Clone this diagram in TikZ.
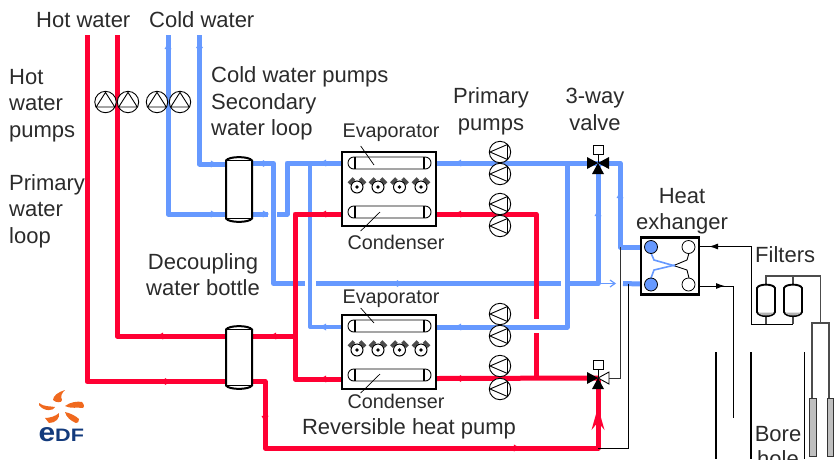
\documentclass[tikz,border=0pt]{standalone}
\usepackage{fontspec}
\setmainfont{Liberation Sans}
\usetikzlibrary{calc,arrows.meta}
\definecolor{hotred}{HTML}{FF0033}
\definecolor{coldblue}{HTML}{6699FF}
\definecolor{inktext}{HTML}{2B2B2B}
\definecolor{edforange}{HTML}{F0691E}
\definecolor{edfblue}{HTML}{123A7C}
\newcommand{\fsz}[1]{\fontsize{#1}{#1}\selectfont}
\tikzset{
  x=1pt,y=-1pt,
  lbl/.style={text=inktext,inner sep=0pt,font=\fsz{22},text height=15,text depth=1},
  lblL/.style={lbl,anchor=west},
  lblS/.style={lbl,font=\fsz{19.8},text height=14,text depth=0},
  hot/.style={draw=hotred,line width=5,line join=round},
  cold/.style={draw=coldblue,line width=5,line join=round},
  thinpipe/.style={draw=black!80,line width=1},
  hpbox/.style={draw=black,line width=2.2,fill=white,minimum width=94,minimum height=74,inner sep=0},
  hxbox/.style={draw=black,line width=2.2,fill=white,minimum width=58,minimum height=57,inner sep=0},
  portnode/.style={circle,draw=black,line width=.8,minimum size=13,inner sep=0},
  pumpcirc/.style={draw=black,line width=.9,fill=white},
  tube/.pic={
    \draw[line width=.9,fill=white,rounded corners=5.8] (-41.5,-6) rectangle (41.5,6);
    \draw[line width=1.1] (-34.5,-6) -- (-34.5,6) (34.5,-6) -- (34.5,6);
  },
  pumpleft/.pic={
    \draw[pumpcirc] (0,0) circle (10.7);
    \draw[line width=.9] (-10,0) -- (7.5,-7.5) -- (7.5,7.5) -- cycle;
  },
  pumpup/.pic={
    \draw[pumpcirc] (0,0) circle (10.7);
    \draw[line width=.9] (0,-9.6) -- (9.3,5) -- (-9.3,5) -- cycle;
  },
  compressor/.pic={
    \fill[black!70] (-1.7,-7.2) -- (-4.3,-9.8) -- (-9.3,-4.8) -- (-6.7,-2.2) -- cycle;
    \fill[black!70] (1.7,-7.2) -- (4.3,-9.8) -- (9.3,-4.8) -- (6.7,-2.2) -- cycle;
    \draw[line width=1,fill=white] (0,0) circle (6);
    \fill (0,0) circle (1.8);
  },
}
% bottle: name, cx, top, bottom
\newcommand{\bottle}[4]{%
  \node[minimum width=26,minimum height=#4-#3,inner sep=0] (#1) at (#2,{(#3+#4)/2}) {};
  \draw[fill=white,line width=2] (#2-13,#3+3.5) .. controls (#2-10,#3-1) and (#2+10,#3-1) .. (#2+13,#3+3.5)
     -- (#2+13,#4-3.5) .. controls (#2+10,#4+1) and (#2-10,#4+1) .. (#2-13,#4-3.5) -- cycle;
  \draw[line width=1] (#2-13,#3+3.5) -- (#2+13,#3+3.5) (#2-13,#4-3.5) -- (#2+13,#4-3.5);
}
% filter: name, cx
\newcommand{\filterunit}[2]{%
  \node[minimum width=18,minimum height=33,inner sep=0] (#1) at (#2,300) {};
  \draw[fill=white,line width=1.9] (#2-9,288) .. controls (#2-7,283.5) and (#2+7,283.5) .. (#2+9,288) -- (#2+9,312)
     .. controls (#2+7,317.5) and (#2-7,317.5) .. (#2-9,312) -- cycle;
  \fill[black!30] (#2-8,312.5) .. controls (#2-6,316.5) and (#2+6,316.5) .. (#2+8,312.5) -- cycle;
}
% valve: name, cx, cy
\newcommand{\valvebody}[3]{%
  \coordinate (#1) at (#2,#3);
  \draw[line width=.9] (#2,#3) -- (#2,#3-9);
  \draw[line width=.9,fill=white] (#2-5,#3-18) rectangle (#2+5,#3-9);
  \fill (#2,#3) -- (#2-11,#3-6) -- (#2-11,#3+6) -- cycle;
  \fill (#2,#3) -- (#2-6,#3+11) -- (#2+6,#3+11) -- cycle;
}
\newcommand{\tick}[4]{% colour, x, y, angle
  \fill[#1] (#2,#3) ++(#4:5) -- ++(#4+150:7) -- ++(#4-90:7) -- cycle;
}
\begin{document}
\begin{tikzpicture}
\useasboundingbox (0,0) rectangle (835,459);
\clip (0,0) rectangle (835,459);

% named equipment anchors
\coordinate (hotA) at (87,35);
\coordinate (hotB) at (117,35);
\coordinate (coldA) at (168,35);
\coordinate (coldB) at (199.5,35);
\coordinate (v1) at (598,163);
\coordinate (v2) at (598,378);
\coordinate (hxTL) at (641,247);
\coordinate (hxBL) at (641,284);

% cold pipes
\draw[cold] (coldB) |- (226,164);
\draw[cold] (coldA) |- (226,214);
\draw[cold] (252,163.5) -- (273.5,163.5) |- (305,283.5);
\draw[cold] (316,283.5) -- (561,283.5);
\draw[cold] (570,283.5) -- (598,283.5) -- (v1);
\draw[cold] (623,283.5) -- (hxBL);
\draw[coldblue,line width=1.2] (600,283.5) -- (615,283.5);
\draw[coldblue,line width=1.2] (610,280) -- (615,283.5) -- (610,287);
\draw[cold] (252,214) -- (268,214);
\draw[cold] (277,214) -- (287,214) |- (342,163);
\draw[cold,line width=4] (310,163) |- (342,327);
\draw[cold] (436,163) -- (v1);
\draw[cold] (436,327) -- (567,327) -- (567,163);
\draw[cold] (v1) -- (620,163) |- (hxTL);

% hot pipes
\draw[hot] (hotA) |- (225,381.5);
\draw[hot] (hotB) |- (225,336);
\draw[hot] (252,336) -- (295,336);
\draw[hot] (342,214) -- (295,214) |- (342,379);
\draw[hot] (436,214) -- (536,214) -- (536,319);
\draw[hot] (536,333) -- (536,379);
\draw[hot] (436,378.5) -- (v2);
\draw[hot] (252,381.5) -- (265,381.5) |- (598,448) -- (v2);

% flow arrows
\tick{coldblue}{168}{48}{-90}
\tick{coldblue}{199.5}{48}{90}
\tick{coldblue}{212}{164}{0}
\tick{coldblue}{212}{214}{0}
\tick{coldblue}{264}{163.5}{0}
\tick{coldblue}{264}{214}{0}
\tick{coldblue}{325}{163}{180}
\tick{coldblue}{460}{163}{180}
\tick{coldblue}{325}{327}{180}
\tick{coldblue}{460}{327}{180}
\tick{coldblue}{398}{283.5}{0}
\tick{coldblue}{598}{215}{-90}
\tick{coldblue}{620}{197}{-90}
\tick{hotred}{325}{214}{180}
\tick{hotred}{460}{214}{180}
\tick{hotred}{325}{379}{180}
\tick{hotred}{460}{378.5}{180}
\tick{hotred}{162}{336}{180}
\tick{hotred}{275}{336}{180}
\tick{hotred}{166}{381.5}{0}
\tick{hotred}{265}{417}{90}
\tick{hotred}{515}{448}{0}
\fill[hotred] (598,407) -- (604.5,430) -- (598,422) -- (591.5,430) -- cycle;

% thin lines
\draw[thinpipe] (620,247) -- (620,378) -- (606,378);
\draw[thinpipe,black] (628.5,283.5) -- (628.5,448) -- (598,448);
\draw[thinpipe,black] (699,246.5) -- (751,246.5) -- (751,324) -- (793,324);
\draw[thinpipe,black] (699,286) -- (733,286) -- (733,418);
\draw[-{Latex[length=9,width=6]},black,line width=1] (722,246.5) -- (709,246.5);
\draw[-{Latex[length=9,width=6]},black,line width=1] (712,286) -- (725,286);
\draw[thinpipe,black!70,line width=1.2] (766,324) -- (766,276) -- (820.5,276) -- (820.5,323);
\draw[thinpipe,black!70,line width=1.2] (793,324) -- (793,276);
\draw[thinpipe,black!70,line width=1.2] (812,398) -- (812,323) -- (829,323) -- (829,398);

% bore hole
\draw[black,line width=1.3] (716,352) -- (716,459) (751,352) -- (751,459) (804.5,352) -- (804.5,459);
\draw[black!80,fill=black!25,line width=1] (809.5,398) rectangle (816,456);
\draw[black!80,fill=black!25,line width=1] (827,398) rectangle (833.5,456);

% filters
\filterunit{f1}{766}
\filterunit{f2}{793}

% bottles
\bottle{b1}{239}{157}{222}
\bottle{b2}{239}{326}{389}

% valves
\valvebody{v1b}{598}{163}
\fill (598,163) -- (609,157) -- (609,169) -- cycle;
\valvebody{v2b}{598}{378}
\draw[line width=.9,fill=white] (598,378) -- (609,372) -- (609,384) -- cycle;

% heat pumps
\node[hpbox] (hp1) at (389,189) {};
\node[hpbox] (hp2) at (389,352) {};
\foreach \o in {0,163}{
  \pic at (389.5,{163+\o}) {tube};
  \pic at (389.5,{212+\o}) {tube};
  \foreach \cx in {357,378,399.5,421}{ \pic at (\cx,{187+\o}) {compressor}; }
}
\draw[line width=.7] (360.7,146) -- (374,165);
\draw[line width=.7] (380,212) -- (360.7,231);
\draw[line width=.7] (360.7,308) -- (374,323);
\draw[line width=.7] (380,374) -- (360.7,393);

% pumps
\foreach \py in {152,174,204,226,314,336,366,389}{ \pic at (500,\py) {pumpleft}; }
\foreach \px in {105.5,128,157,180}{ \pic at (\px,102) {pumpup}; }

% heat exchanger
\node[hxbox] (hx) at (670,266) {};
\draw[coldblue,line width=1.6] (651,253) -- (654,260) -- (675,266);
\draw[coldblue,line width=1.6] (651,278) -- (654,270) -- (675,265);
\draw[black,line width=.9] (675,266) -- (687,270) -- (689,278);
\draw[black,line width=.9] (675,265) -- (687,260) -- (689,253);
\node[portnode,fill=coldblue] (p1) at (651,247) {};
\node[portnode,fill=coldblue] (p2) at (651,284.5) {};
\node[portnode,fill=white] (p3) at (688.5,247) {};
\node[portnode,fill=white] (p4) at (688.5,284.5) {};

% labels
\node[lblL] (t1) at (36,20) {Hot water};
\node[lblL] (t2) at (149,20) {Cold water};
\node[lblL] (t3) at (9,77) {Hot};
\node[lblL] (t4) at (9,103) {water};
\node[lblL] (t5) at (9,130) {pumps};
\node[lblL] (t6) at (9,183) {Primary};
\node[lblL] (t7) at (9,209) {water};
\node[lblL] (t8) at (9,236) {loop};
\node[lblL] (t9) at (211,75) {Cold water pumps};
\node[lblL] (t10) at (211,102) {Secondary};
\node[lblL] (t11) at (211,128) {water loop};
\node[lbl] (t12) at (491,96) {Primary};
\node[lbl] (t13) at (491,123) {pumps};
\node[lbl] (t14) at (595,96) {3-way};
\node[lbl] (t15) at (595,123) {valve};
\node[lbl] (t16) at (682,196) {Heat};
\node[lbl] (t17) at (682,222) {exhanger};
\node[lblL] (t18) at (755,255) {Filters};
\node[lbl] (t19) at (203,262) {Decoupling};
\node[lbl] (t20) at (203,288) {water bottle};
\node[lbl] (t21) at (409,427) {Reversible heat pump};
\node[lblS] (t22) at (391,130) {Evaporator};
\node[lblS] (t23) at (391,296) {Evaporator};
\node[lblS] (t24) at (396,242) {Condenser};
\node[lblS] (t25) at (396,401) {Condenser};
\node[lbl] (t26) at (778,434) {Bore};
\node[lbl] (t27) at (778,459) {hole};

% EDF logo
\fill[edforange] (65,390) .. controls (58,392) and (53,396) .. (53,400) .. controls (56,403) and (62,403) .. (62,400) .. controls (60,396) and (62,393) .. (65,390) -- cycle;
\fill[edforange] (39,403) .. controls (44,407) and (50,406) .. (55,407) .. controls (54,411) and (44,412) .. (39,405) -- cycle;
\fill[edforange] (65,406) .. controls (70,402) and (78,401) .. (82,402) .. controls (85,405) and (84,408) .. (83,408) .. controls (78,407) and (70,409) .. (65,406) -- cycle;
\fill[edforange] (45,418) .. controls (50,418) and (56,416) .. (59,413) .. controls (60,418) and (56,423) .. (49,423) -- cycle;
\fill[edforange] (65,412) .. controls (70,413) and (76,416) .. (79,419) .. controls (79,422) and (78,423) .. (76,423) .. controls (71,421) and (66,417) .. (65,412) -- cycle;
\node[inner sep=0,anchor=base west,text=edfblue,font=\fsz{26}\bfseries,xscale=1.15,transform shape] (e1) at (38.5,441) {e};
\node[inner sep=0,anchor=base west,text=edfblue,font=\fsz{18}\bfseries,xscale=1.2,transform shape] (e2) at (55,441) {DF};
\end{tikzpicture}
\end{document}
